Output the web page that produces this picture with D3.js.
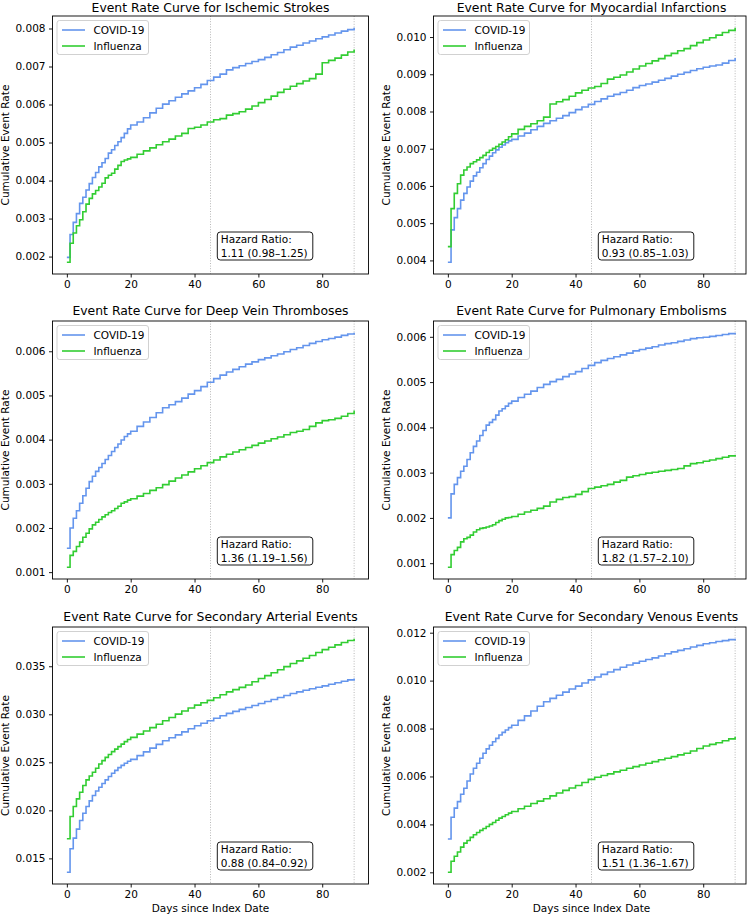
<!DOCTYPE html>
<html><head><meta charset="utf-8">
<script src="https://cdn.jsdelivr.net/npm/d3@7"></script>
<style>
body{margin:0;background:#fff}
svg{display:block}
text{font-family:"DejaVu Sans",sans-serif;fill:#000}
</style>
</head><body><svg id="c" width="750" height="917"></svg>
<script>
// ---------------- DATA ----------------
const days = [0,1,2,3,4,5,6,7,8,9,10,11,12,13,14,15,16,17,18,19,20,
  22,24,26,28,30,32,34,36,38,40,42,44,46,48,50,52,54,56,58,60,62,64,66,68,70,72,74,76,78,80,82,84,86,88,90];

const seriesNames = ["COVID-19","Influenza"];

const titles = [
  "Event Rate Curve for Ischemic Strokes",
  "Event Rate Curve for Myocardial Infarctions",
  "Event Rate Curve for Deep Vein Thromboses",
  "Event Rate Curve for Pulmonary Embolisms",
  "Event Rate Curve for Secondary Arterial Events",
  "Event Rate Curve for Secondary Venous Events"
];

const hazardRatios = ["1.11 (0.98–1.25)","0.93 (0.85–1.03)","1.36 (1.19–1.56)","1.82 (1.57–2.10)","0.88 (0.84–0.92)","1.51 (1.36–1.67)"];

const strokeCovid = [0.00198,0.00258,0.00290,0.00313,0.00340,0.00356,0.00375,0.00392,0.00408,0.00421,0.00436,0.00447,0.00458,0.00472,0.00481,0.00492,0.00502,0.00513,0.00524,0.00536,0.00546,
  0.00554,0.00565,0.00578,0.00590,0.00601,0.00610,0.00619,0.00628,0.00636,0.00644,0.00653,0.00663,0.00672,0.00680,0.00691,0.00697,0.00702,0.00708,0.00713,0.00718,0.00724,0.00731,0.00737,0.00744,0.00751,0.00756,0.00762,0.00767,0.00773,0.00778,0.00783,0.00788,0.00793,0.00797,0.00802];
const strokeFlu = [0.00185,0.00235,0.00262,0.00281,0.00297,0.00318,0.00338,0.00353,0.00365,0.00374,0.00383,0.00393,0.00407,0.00414,0.00419,0.00430,0.00440,0.00450,0.00454,0.00457,0.00461,
  0.00469,0.00478,0.00486,0.00494,0.00502,0.00509,0.00517,0.00524,0.00537,0.00540,0.00546,0.00554,0.00560,0.00563,0.00572,0.00576,0.00581,0.00588,0.00596,0.00605,0.00613,0.00622,0.00632,0.00640,0.00648,0.00655,0.00662,0.00668,0.00680,0.00710,0.00716,0.00722,0.00730,0.00738,0.00745];

const miCovid = [0.00395,0.00482,0.00515,0.00539,0.00562,0.00580,0.00597,0.00613,0.00627,0.00637,0.00649,0.00660,0.00671,0.00680,0.00689,0.00697,0.00704,0.00710,0.00716,0.00721,0.00725,
  0.00734,0.00742,0.00751,0.00760,0.00768,0.00775,0.00782,0.00789,0.00797,0.00805,0.00812,0.00819,0.00827,0.00834,0.00841,0.00846,0.00851,0.00857,0.00864,0.00870,0.00874,0.00879,0.00884,0.00889,0.00895,0.00900,0.00905,0.00910,0.00915,0.00919,0.00922,0.00925,0.00930,0.00937,0.00944];
const miFlu = [0.00437,0.00539,0.00580,0.00606,0.00629,0.00643,0.00651,0.00660,0.00665,0.00670,0.00676,0.00682,0.00690,0.00696,0.00701,0.00706,0.00712,0.00718,0.00724,0.00732,0.00740,
  0.00752,0.00760,0.00767,0.00775,0.00785,0.00820,0.00826,0.00832,0.00841,0.00850,0.00857,0.00863,0.00867,0.00875,0.00887,0.00892,0.00898,0.00906,0.00914,0.00922,0.00929,0.00936,0.00942,0.00950,0.00956,0.00963,0.00969,0.00977,0.00985,0.00992,0.00998,0.01005,0.01012,0.01018,0.01025];

const dvtCovid = [0.00154,0.00200,0.00222,0.00239,0.00256,0.00273,0.00290,0.00305,0.00317,0.00328,0.00337,0.00346,0.00355,0.00364,0.00373,0.00382,0.00390,0.00399,0.00407,0.00413,0.00419,
  0.00430,0.00440,0.00450,0.00461,0.00472,0.00479,0.00486,0.00494,0.00503,0.00511,0.00520,0.00530,0.00538,0.00546,0.00553,0.00559,0.00565,0.00571,0.00576,0.00581,0.00585,0.00590,0.00594,0.00599,0.00604,0.00608,0.00613,0.00618,0.00622,0.00626,0.00629,0.00632,0.00636,0.00639,0.00642];
const dvtFlu = [0.00111,0.00138,0.00147,0.00158,0.00168,0.00179,0.00188,0.00198,0.00207,0.00213,0.00219,0.00225,0.00230,0.00235,0.00239,0.00244,0.00249,0.00256,0.00259,0.00263,0.00266,
  0.00272,0.00278,0.00285,0.00291,0.00298,0.00306,0.00313,0.00320,0.00327,0.00334,0.00341,0.00348,0.00354,0.00361,0.00367,0.00372,0.00377,0.00382,0.00387,0.00392,0.00397,0.00402,0.00406,0.00411,0.00416,0.00419,0.00423,0.00430,0.00438,0.00443,0.00445,0.00448,0.00453,0.00459,0.00466];

const peCovid = [0.00200,0.00253,0.00274,0.00289,0.00303,0.00314,0.00329,0.00344,0.00358,0.00370,0.00382,0.00393,0.00405,0.00411,0.00417,0.00427,0.00436,0.00441,0.00447,0.00453,0.00458,
  0.00466,0.00473,0.00480,0.00488,0.00495,0.00501,0.00506,0.00512,0.00518,0.00523,0.00530,0.00537,0.00543,0.00548,0.00552,0.00556,0.00560,0.00564,0.00569,0.00572,0.00575,0.00578,0.00582,0.00585,0.00587,0.00590,0.00593,0.00596,0.00598,0.00599,0.00601,0.00603,0.00605,0.00607,0.00609];
const peFlu = [0.00091,0.00119,0.00128,0.00135,0.00147,0.00154,0.00157,0.00162,0.00169,0.00174,0.00177,0.00178,0.00180,0.00182,0.00185,0.00190,0.00194,0.00197,0.00200,0.00201,0.00203,
  0.00208,0.00213,0.00217,0.00221,0.00226,0.00235,0.00241,0.00245,0.00247,0.00252,0.00258,0.00265,0.00268,0.00271,0.00274,0.00279,0.00283,0.00290,0.00293,0.00296,0.00299,0.00301,0.00303,0.00305,0.00307,0.00309,0.00315,0.00320,0.00322,0.00325,0.00328,0.00331,0.00334,0.00337,0.00339];

const arterialCovid = [0.01355,0.01600,0.01711,0.01805,0.01894,0.01970,0.02040,0.02099,0.02154,0.02202,0.02240,0.02280,0.02317,0.02352,0.02386,0.02416,0.02445,0.02468,0.02490,0.02511,0.02531,
  0.02570,0.02609,0.02648,0.02687,0.02725,0.02756,0.02786,0.02817,0.02849,0.02881,0.02907,0.02933,0.02959,0.02984,0.03009,0.03030,0.03051,0.03071,0.03092,0.03112,0.03133,0.03154,0.03174,0.03195,0.03216,0.03233,0.03250,0.03266,0.03281,0.03296,0.03312,0.03329,0.03344,0.03358,0.03372];
const arterialFlu = [0.01704,0.01936,0.02040,0.02120,0.02189,0.02258,0.02317,0.02358,0.02396,0.02438,0.02483,0.02518,0.02552,0.02582,0.02611,0.02637,0.02663,0.02689,0.02715,0.02738,0.02760,
  0.02793,0.02826,0.02861,0.02897,0.02933,0.02967,0.03002,0.03034,0.03065,0.03095,0.03120,0.03145,0.03172,0.03203,0.03233,0.03257,0.03280,0.03305,0.03338,0.03372,0.03402,0.03433,0.03464,0.03496,0.03528,0.03556,0.03583,0.03612,0.03643,0.03673,0.03698,0.03723,0.03748,0.03768,0.03787];

const venousCovid = [0.00339,0.00430,0.00468,0.00495,0.00526,0.00551,0.00581,0.00610,0.00634,0.00655,0.00676,0.00697,0.00715,0.00730,0.00745,0.00759,0.00773,0.00784,0.00794,0.00804,0.00814,
  0.00834,0.00853,0.00873,0.00893,0.00912,0.00926,0.00939,0.00952,0.00965,0.00977,0.00990,0.01003,0.01015,0.01026,0.01036,0.01046,0.01056,0.01065,0.01073,0.01081,0.01088,0.01095,0.01103,0.01112,0.01120,0.01126,0.01133,0.01140,0.01147,0.01154,0.01158,0.01163,0.01167,0.01171,0.01175];
const venousFlu = [0.00200,0.00246,0.00267,0.00285,0.00305,0.00322,0.00333,0.00346,0.00357,0.00366,0.00375,0.00383,0.00391,0.00400,0.00408,0.00417,0.00426,0.00433,0.00440,0.00447,0.00454,
  0.00465,0.00476,0.00487,0.00497,0.00507,0.00519,0.00531,0.00542,0.00552,0.00562,0.00575,0.00588,0.00597,0.00604,0.00611,0.00619,0.00626,0.00634,0.00641,0.00648,0.00655,0.00662,0.00670,0.00676,0.00683,0.00690,0.00697,0.00706,0.00717,0.00727,0.00734,0.00741,0.00749,0.00757,0.00766];

const yTickValues = [
  [0.002,0.003,0.004,0.005,0.006,0.007,0.008],
  [0.004,0.005,0.006,0.007,0.008,0.009,0.010],
  [0.001,0.002,0.003,0.004,0.005,0.006],
  [0.001,0.002,0.003,0.004,0.005,0.006],
  [0.015,0.020,0.025,0.030,0.035],
  [0.002,0.004,0.006,0.008,0.010,0.012]
];
const xTickValues = [0,20,40,60,80];
const refLines = [45,90];

const panelSeries = [
  [strokeCovid, strokeFlu],
  [miCovid, miFlu],
  [dvtCovid, dvtFlu],
  [peCovid, peFlu],
  [arterialCovid, arterialFlu],
  [venousCovid, venousFlu]
];

// ---------------- LAYOUT / STYLE ----------------
const colors = ["#6495ED", "#32CD32"];
const colLeft = [52.5, 433.5];
const colRight = [368.5, 746];
const axW = 316;
const rows = [{top:16,bottom:274,title:11.5},{top:321,bottom:579,title:314.5},{top:627,bottom:884,title:620.5}];
const svg = d3.select("#c");

panelSeries.forEach((series, i) => {
  const col = i % 2, row = Math.floor(i / 2);
  const L = colLeft[col], R = colRight[col], T = rows[row].top, B = rows[row].bottom;
  const x = d3.scaleLinear().domain([-4.5, 94.5]).range([L, L + axW]);
  const allVals = series.flat();
  const mn = d3.min(allVals), mx = d3.max(allVals), pad = (mx - mn) * 0.05;
  const y = d3.scaleLinear().domain([mn - pad, mx + pad]).range([B, T]);
  const g = svg.append("g");

  // reference dotted lines
  g.selectAll("line.ref").data(refLines).enter().append("line")
    .attr("x1", d => x(d)).attr("x2", d => x(d)).attr("y1", T).attr("y2", B)
    .attr("stroke", "#b0b0b0").attr("stroke-width", 0.9).attr("stroke-dasharray", "1,1.6");

  // curves
  const line = d3.line().x((d, k) => x(days[k])).y(d => y(d)).curve(d3.curveStepAfter);
  series.forEach((s, k) => {
    g.append("path").datum(s).attr("d", line).attr("fill", "none")
      .attr("stroke", colors[k]).attr("stroke-width", 1.6);
  });

  // frame
  g.append("rect").attr("x", L).attr("y", T).attr("width", R - L).attr("height", B - T)
    .attr("fill", "none").attr("stroke", "#000").attr("stroke-width", 0.9);

  // axes
  const fmt = d3.format(".3f");
  const ya = g.append("g").attr("transform", `translate(${L},0)`)
    .call(d3.axisLeft(y).tickValues(yTickValues[i]).tickFormat(fmt).tickSize(3.5).tickPadding(3.5));
  const xa = g.append("g").attr("transform", `translate(0,${B})`)
    .call(d3.axisBottom(x).tickValues(xTickValues).tickFormat(d3.format("d")).tickSize(3.5).tickPadding(3.5));
  [ya, xa].forEach(a => {
    a.select(".domain").remove();
    a.selectAll("line").attr("stroke", "#000").attr("stroke-width", 0.9);
    a.selectAll("text").attr("font-family", "DejaVu Sans").attr("font-size", 10.5).attr("fill", "#000");
    a.attr("font-family", null).attr("font-size", null);
  });

  // title
  g.append("text").attr("x", L + axW / 2).attr("y", rows[row].title).attr("text-anchor", "middle")
    .attr("font-size", 12.4).text(titles[i]);
  // y label
  g.append("text").attr("transform", `translate(${L - 44},${(T + B) / 2}) rotate(-90)`)
    .attr("text-anchor", "middle").attr("font-size", 10.5).text("Cumulative Event Rate");
  // x label bottom row
  if (row === 2) {
    g.append("text").attr("x", L + axW / 2).attr("y", B + 28).attr("text-anchor", "middle")
      .attr("font-size", 10.5).text("Days since Index Date");
  }

  // legend
  const lg = g.append("g").attr("transform", `translate(${L + 4.5},${T + 4.5})`);
  lg.append("rect").attr("width", 91.5).attr("height", 34).attr("rx", 2.5)
    .attr("fill", "#fff").attr("fill-opacity", 0.8).attr("stroke", "#cccccc").attr("stroke-width", 0.9);
  seriesNames.forEach((n, k) => {
    const yy = 9.5 + k * 16;
    lg.append("line").attr("x1", 5).attr("x2", 28).attr("y1", yy).attr("y2", yy)
      .attr("stroke", colors[k]).attr("stroke-width", 1.6);
    lg.append("text").attr("x", 36.5).attr("y", yy + 3.8).attr("font-size", 10.5).text(n);
  });

  // hazard ratio box
  const hb = g.append("g").attr("transform", `translate(${L + 164.8},${B - 42})`);
  hb.append("rect").attr("width", 95.5).attr("height", 28).attr("rx", 3)
    .attr("fill", "#fff").attr("stroke", "#000").attr("stroke-width", 0.9);
  hb.append("text").attr("x", 3.5).attr("y", 11).attr("font-size", 10.5).text("Hazard Ratio:");
  hb.append("text").attr("x", 3.5).attr("y", 24.5).attr("font-size", 10.5).text(hazardRatios[i]);
});
</script>
</body></html>
